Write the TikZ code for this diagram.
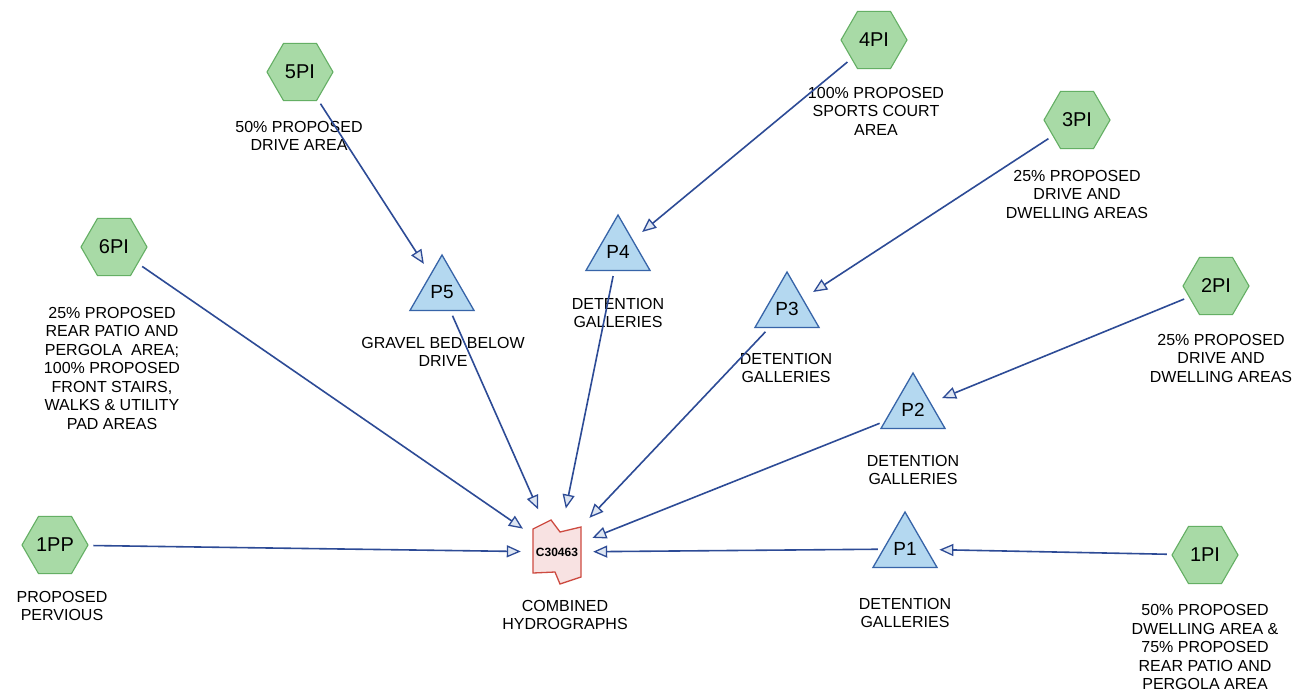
\documentclass[tikz,border=0pt]{standalone}
\usepackage{fontspec}
\setmainfont{Liberation Sans}
\usetikzlibrary{shapes.geometric,arrows.meta,calc}
\definecolor{hexfill}{RGB}{168,218,166}
\definecolor{hexdraw}{RGB}{100,175,100}
\definecolor{trifill}{RGB}{180,216,240}
\definecolor{tridraw}{RGB}{55,100,168}
\definecolor{redfill}{RGB}{248,226,226}
\definecolor{reddraw}{RGB}{205,75,65}
\definecolor{flowline}{RGB}{45,75,150}
\definecolor{arrowfill}{RGB}{222,230,242}
\begin{document}
\begin{tikzpicture}[x=1pt,y=-1pt,
  hexnode/.style={regular polygon, regular polygon sides=6, minimum size=66pt, inner sep=0pt,
    draw=hexdraw, fill=hexfill, line width=1.1pt, font=\fontsize{20}{20}\selectfont},
  trinode/.style={regular polygon, regular polygon sides=3, minimum size=74pt, inner sep=0pt,
    draw=tridraw, fill=trifill, line width=1.3pt, font=\fontsize{19}{19}\selectfont},
  lbl/.style={align=center, font=\fontsize{16}{18.5}\selectfont, inner sep=0pt},
  flow/.style={draw=flowline, line width=1.6pt,
    -{Triangle[length=14pt,width=12pt,fill=arrowfill,line width=1.3pt]},
    shorten >=12pt, shorten <=5pt}]
\useasboundingbox (0,0) rectangle (1300,694);
\fill[white] (0,0) rectangle (1300,694);

% combined hydrograph node
\coordinate (Cc) at (557,552);
\draw[reddraw, fill=redfill, line width=1.3pt]
  ($(Cc)+(-24,-23)$) -- ($(Cc)+(-6,-32)$) -- ($(Cc)+(3,-20)$) -- ($(Cc)+(24,-25)$)
  -- ($(Cc)+(24,25)$) -- ($(Cc)+(3,32)$) -- ($(Cc)+(-2,20)$) -- ($(Cc)+(-24,21)$) -- cycle;
\node[minimum width=48pt, minimum height=63pt, inner sep=0pt, font=\fontsize{12}{12}\selectfont\bfseries] (C) at (Cc) {C30463};

% hexagons
\node[hexnode] (n1PP) at (55,545) {1PP};
\node[hexnode] (n6PI) at (114,247) {6PI};
\node[hexnode] (n5PI) at (300,72) {5PI};
\node[hexnode] (n4PI) at (874,40) {4PI};
\node[hexnode] (n3PI) at (1077,120) {3PI};
\node[hexnode] (n2PI) at (1216,286) {2PI};
\node[hexnode] (n1PI) at (1205,555) {1PI};

% triangles
\node[trinode] (P5) at (442,292) {P5};
\node[trinode] (P4) at (618,252) {P4};
\node[trinode] (P3) at (787,309) {P3};
\node[trinode] (P2) at (913,410) {P2};
\node[trinode] (P1) at (905,549) {P1};

% labels
\node[lbl] (l1PP) at (62,606) {PROPOSED\\PERVIOUS};
\node[lbl] (l6PI) at (112,368) {25\% PROPOSED\\REAR PATIO AND\\PERGOLA~~AREA;\\100\% PROPOSED\\FRONT STAIRS,\\WALKS \& UTILITY\\PAD AREAS};
\node[lbl] (l5PI) at (299,136) {50\% PROPOSED\\DRIVE AREA};
\node[lbl] (l4PI) at (876,111) {100\% PROPOSED\\SPORTS COURT\\AREA};
\node[lbl] (l3PI) at (1077,194) {25\% PROPOSED\\DRIVE AND\\DWELLING AREAS};
\node[lbl] (l2PI) at (1221,358) {25\% PROPOSED\\DRIVE AND\\DWELLING AREAS};
\node[lbl] (l1PI) at (1205,647) {50\% PROPOSED\\DWELLING AREA \&\\75\% PROPOSED\\REAR PATIO AND\\PERGOLA AREA};
\node[lbl] (lP5) at (443,352) {GRAVEL BED BELOW\\DRIVE};
\node[lbl] (lP4) at (618,313) {DETENTION\\GALLERIES};
\node[lbl] (lP3) at (786,368) {DETENTION\\GALLERIES};
\node[lbl] (lP2) at (913,470) {DETENTION\\GALLERIES};
\node[lbl] (lP1) at (905,613) {DETENTION\\GALLERIES};
\node[lbl] (lC) at (565,615) {COMBINED\\HYDROGRAPHS};

% connectors
\draw[flow] (n1PP) -- (C);
\draw[flow] (n6PI) -- (C);
\draw[flow] (n5PI) -- (P5);
\draw[flow] (P5) -- (C);
\draw[flow] (n4PI) -- (P4);
\draw[flow] (P4) -- (C);
\draw[flow] (n3PI) -- (P3);
\draw[flow] (P3) -- (C);
\draw[flow] (n2PI) -- (P2);
\draw[flow] (P2) -- (C);
\draw[flow] (n1PI) -- (P1);
\draw[flow] (P1) -- (C);
\end{tikzpicture}
\end{document}
